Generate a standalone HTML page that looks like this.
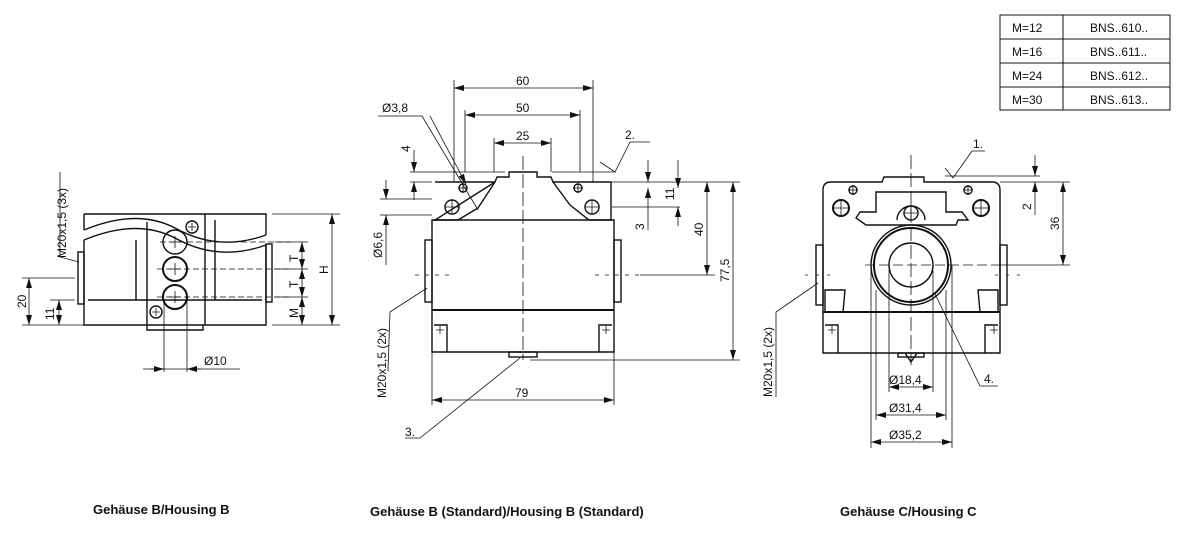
<!DOCTYPE html>
<html><head><meta charset="utf-8"><style>
html,body{margin:0;padding:0;background:#fff;}
svg{display:block;font-family:"Liberation Sans",sans-serif;}
text{fill:#111;}
</style></head><body>
<svg width="1200" height="534" viewBox="0 0 1200 534" xmlns="http://www.w3.org/2000/svg">
<defs>
<marker id="a" viewBox="0 0 10 6" refX="10" refY="3" markerWidth="10" markerHeight="6" orient="auto-start-reverse" markerUnits="userSpaceOnUse"><path d="M0,0 L10,3 L0,6 z" fill="#111"/></marker>
</defs>
<g stroke="#111" fill="none" stroke-width="1">
<!-- table -->
<rect x="1000" y="15" width="170" height="95"/>
<line x1="1063" y1="15" x2="1063" y2="110"/>
<line x1="1000" y1="39" x2="1170" y2="39"/>
<line x1="1000" y1="63" x2="1170" y2="63"/>
<line x1="1000" y1="87" x2="1170" y2="87"/>
</g>
<g font-size="12">
<text x="1012" y="32">M=12</text><text x="1090" y="32">BNS..610..</text>
<text x="1012" y="56">M=16</text><text x="1090" y="56">BNS..611..</text>
<text x="1012" y="80">M=24</text><text x="1090" y="80">BNS..612..</text>
<text x="1012" y="104">M=30</text><text x="1090" y="104">BNS..613..</text>
</g>

<!-- ===== LEFT VIEW ===== -->
<g stroke="#111" fill="none" stroke-width="1.4">
<path d="M84,214 L266,214 L266,235 M84,214 L84,230"/>
<path d="M84,230 C120,215 150,215 175,228 C200,242 230,248 266,235"/>
<path d="M84,240 C120,225 150,225 175,238 C200,252 230,258 266,245"/>
<path d="M84,240 L84,325 L266,325 L266,245"/>
<line x1="88" y1="300" x2="262" y2="300"/>
<path d="M147,222 L147,325 M205,214 L205,325 M136,240 L136,300 M215,220 L215,300"/>
<path d="M147,325 L147,330 L203,330 L203,325"/>
<rect x="78" y="252" width="6" height="52"/><rect x="266" y="244" width="6" height="58"/>
<circle cx="175" cy="242" r="12"/><circle cx="175" cy="269" r="12" stroke-width="2"/><circle cx="175" cy="297" r="12" stroke-width="2"/>
<circle cx="192" cy="227" r="6"/><circle cx="156" cy="312" r="6"/>
</g>
<g stroke="#111" stroke-width="0.8" fill="none">
<path d="M169,242h12M175,236v12M169,269h12M175,263v12M169,297h12M175,291v12M188,227h8M192,223v8M152,312h8M156,308v8"/>
<path d="M157,269 L290,269 M157,297 L290,297 M160,242 L290,242" stroke-dasharray="6,3"/>
<path d="M272,214 L340,214 M272,325 L340,325 M275,242 L308,242 M275,269 L308,269 M275,297 L308,297 M272,325 L308,325"/>
<line x1="332" y1="214" x2="332" y2="325" marker-start="url(#a)" marker-end="url(#a)"/>
<line x1="302" y1="242" x2="302" y2="269" marker-start="url(#a)" marker-end="url(#a)"/>
<line x1="302" y1="269" x2="302" y2="297" marker-start="url(#a)" marker-end="url(#a)"/>
<line x1="302" y1="297" x2="302" y2="325" marker-start="url(#a)" marker-end="url(#a)"/>
<path d="M22,278 L75,278 M50,300 L75,300 M22,325 L84,325"/>
<line x1="29" y1="278" x2="29" y2="325" marker-start="url(#a)" marker-end="url(#a)"/>
<line x1="59" y1="300" x2="59" y2="325" marker-start="url(#a)" marker-end="url(#a)"/>
<path d="M164,300 L164,372 M187,300 L187,372 M143,369 L240,369"/>
<line x1="150" y1="369" x2="164" y2="369" marker-end="url(#a)"/>
<line x1="201" y1="369" x2="187" y2="369" marker-end="url(#a)"/>
<path d="M60,172 L60,257 L79,262"/>
</g>
<g font-size="12">
<text transform="translate(66,258) rotate(-90)">M20x1,5 (3x)</text>
<text transform="translate(26,308) rotate(-90)">20</text>
<text transform="translate(54,320) rotate(-90)">11</text>
<text transform="translate(298,262) rotate(-90)">T</text>
<text transform="translate(298,288) rotate(-90)">T</text>
<text transform="translate(298,318) rotate(-90)">M</text>
<text transform="translate(328,274) rotate(-90)">H</text>
<text x="204" y="365">Ø10</text>
</g>

<!-- ===== MIDDLE VIEW ===== -->
<g stroke="#111" fill="none" stroke-width="1.4">
<path d="M435,182 L495,182 L497,177 L509,177 L509,172 L537,172 L537,177 L551,177 L553,182 L611,182 L611,220 L589,220 L570,205 L553,182 M495,182 L478,208 L458,220 L435,220 Z"/>
<path d="M432,220 L614,220 L614,352 L432,352 Z"/>
<line x1="432" y1="310" x2="614" y2="310" stroke-width="2"/>
<rect x="509" y="352" width="28" height="5"/>
<rect x="425" y="240" width="7" height="62"/><rect x="614" y="240" width="7" height="62"/>
<path d="M434,325 L447,325 L447,352 M612,325 L599,325 L599,352"/>
<circle cx="463" cy="188" r="4"/><circle cx="578" cy="188" r="4"/>
<circle cx="452" cy="207" r="7"/><circle cx="592" cy="207" r="7"/>
</g>
<g stroke="#111" stroke-width="0.8" fill="none">
<path d="M445,207h14M452,200v14M585,207h14M592,200v14M458,188h10M463,183v10M573,188h10M578,183v10M436,330h8M440,326v8M602,330h8M606,326v8"/>
<path d="M523,156 L523,360" stroke-dasharray="14,4"/>
<path d="M415,275 L450,275 M595,275 L640,275" stroke-dasharray="4,6"/>
<path d="M454,80 L454,182 M593,80 L593,182 M465,110 L465,172 M580,110 L580,172 M494,138 L494,172 M551,138 L551,172"/>
<line x1="454" y1="88" x2="593" y2="88" marker-start="url(#a)" marker-end="url(#a)"/>
<line x1="465" y1="115" x2="580" y2="115" marker-start="url(#a)" marker-end="url(#a)"/>
<line x1="494" y1="143" x2="551" y2="143" marker-start="url(#a)" marker-end="url(#a)"/>
<path d="M410,172 L505,172 M410,182 L432,182 M380,199 L432,199 M380,215 L432,215"/>
<line x1="414" y1="150" x2="414" y2="172" marker-end="url(#a)"/>
<line x1="414" y1="200" x2="414" y2="182" marker-end="url(#a)"/>
<line x1="386" y1="180" x2="386" y2="199" marker-end="url(#a)"/>
<line x1="386" y1="265" x2="386" y2="215" marker-end="url(#a)"/>
<path d="M378,116 L422,116 L478,210"/>
<line x1="430" y1="116" x2="466" y2="184" marker-end="url(#a)"/>
<path d="M552,172 L615,172 L600,162 M615,172 L630,142 L650,142"/>
<path d="M612,182 L740,182 M612,207 L680,207 M530,360 L740,360 M640,275 L715,275"/>
<line x1="648" y1="160" x2="648" y2="182" marker-end="url(#a)"/>
<line x1="648" y1="230" x2="648" y2="188" marker-end="url(#a)"/>
<line x1="678" y1="160" x2="678" y2="188" marker-end="url(#a)"/>
<line x1="678" y1="226" x2="678" y2="207" marker-end="url(#a)"/>
<line x1="707" y1="182" x2="707" y2="275" marker-start="url(#a)" marker-end="url(#a)"/>
<line x1="733" y1="182" x2="733" y2="360" marker-start="url(#a)" marker-end="url(#a)"/>
<path d="M432,352 L432,405 M614,352 L614,405"/>
<line x1="432" y1="400" x2="614" y2="400" marker-start="url(#a)" marker-end="url(#a)"/>
<path d="M388,371 L390,312 L427,288"/>
<path d="M405,438 L420,438 L520,358"/>
</g>
<g font-size="12">
<text x="516" y="85">60</text>
<text x="516" y="112">50</text>
<text x="516" y="140">25</text>
<text x="382" y="112">Ø3,8</text>
<text transform="translate(410,152) rotate(-90)">4</text>
<text transform="translate(382,258) rotate(-90)">Ø6,6</text>
<text x="625" y="139">2.</text>
<text transform="translate(644,230) rotate(-90)">3</text>
<text transform="translate(674,200) rotate(-90)">11</text>
<text transform="translate(703,236) rotate(-90)">40</text>
<text transform="translate(729,282) rotate(-90)">77,5</text>
<text transform="translate(386,398) rotate(-90)">M20x1,5 (2x)</text>
<text x="515" y="397">79</text>
<text x="405" y="436">3.</text>
</g>

<!-- ===== RIGHT VIEW ===== -->
<g stroke="#111" fill="none" stroke-width="1.4">
<path d="M823,190 Q823,182 831,182 L882,182 L884,177 L924,177 L924,182 L992,182 Q1000,182 1000,190 L1000,353 L823,353 Z"/>
<line x1="823" y1="312" x2="1000" y2="312" stroke-width="2"/>
<path d="M856,218 L860,212 L876,212 L876,192 L946,192 L946,212 L962,212 L968,220 L958,220 L956,225 L866,225 Z"/>
<path d="M897,220 A14,14 0 0 1 925,220"/>
<circle cx="911" cy="213" r="7"/>
<circle cx="841" cy="208" r="8" stroke-width="2"/><circle cx="981" cy="208" r="8" stroke-width="2"/>
<circle cx="853" cy="190" r="4"/><circle cx="968" cy="190" r="4"/>
<circle cx="911" cy="265" r="40"/><circle cx="911" cy="265" r="37" stroke-width="2"/>
<circle cx="911" cy="265" r="22"/>
<rect x="816" y="245" width="7" height="60"/><rect x="1000" y="245" width="7" height="60"/>
<path d="M825,312 L825,290 L845,290 L843,312 M998,312 L998,290 L978,290 L980,312"/>
<path d="M825,325 L838,325 L838,353 M998,325 L985,325 L985,353"/>
<rect x="898" y="353" width="26" height="4"/>
<path d="M905,353 L911,362 L917,353"/>
</g>
<g stroke="#111" stroke-width="0.8" fill="none">
<path d="M833,208h16M841,200v16M973,208h16M981,200v16M904,213h14M911,206v14M848,190h10M853,185v10M963,190h10M968,185v10M828,330h8M832,326v8M990,330h8M994,326v8"/>
<path d="M911,155 L911,365" stroke-dasharray="14,4"/>
<path d="M865,265 L1005,265" stroke-dasharray="10,4"/>
<path d="M805,275 L830,275 M995,275 L1020,275" stroke-dasharray="3,8"/>
<path d="M889,270 L889,392 M933,270 L933,392 M876,290 L876,420 M946,290 L946,420 M871,265 L871,448 M952,265 L952,448"/>
<line x1="889" y1="387" x2="933" y2="387" marker-start="url(#a)" marker-end="url(#a)"/>
<line x1="876" y1="415" x2="946" y2="415" marker-start="url(#a)" marker-end="url(#a)"/>
<line x1="871" y1="442" x2="952" y2="442" marker-start="url(#a)" marker-end="url(#a)"/>
<path d="M1000,182 L1070,182 M945,176 L1040,176 M1000,265 L1070,265"/>
<line x1="1035" y1="155" x2="1035" y2="176" marker-end="url(#a)"/>
<line x1="1035" y1="215" x2="1035" y2="182" marker-end="url(#a)"/>
<line x1="1063" y1="182" x2="1063" y2="265" marker-start="url(#a)" marker-end="url(#a)"/>
<path d="M945,168 L953,178 L972,151 L985,151"/>
<path d="M935,294 L980,386 L998,386"/>
<path d="M776,397 L776,312 L818,283"/>
</g>
<g font-size="12">
<text x="973" y="148">1.</text>
<text transform="translate(1031,210) rotate(-90)">2</text>
<text transform="translate(1059,230) rotate(-90)">36</text>
<text x="984" y="383">4.</text>
<text transform="translate(772,397) rotate(-90)">M20x1,5 (2x)</text>
<text x="889" y="384">Ø18,4</text>
<text x="889" y="412">Ø31,4</text>
<text x="889" y="439">Ø35,2</text>
</g>

<g font-size="13" font-weight="bold">
<text x="93" y="514">Gehäuse B/Housing B</text>
<text x="370" y="516">Gehäuse B (Standard)/Housing B (Standard)</text>
<text x="840" y="516">Gehäuse C/Housing C</text>
</g>
</svg>
</body></html>
